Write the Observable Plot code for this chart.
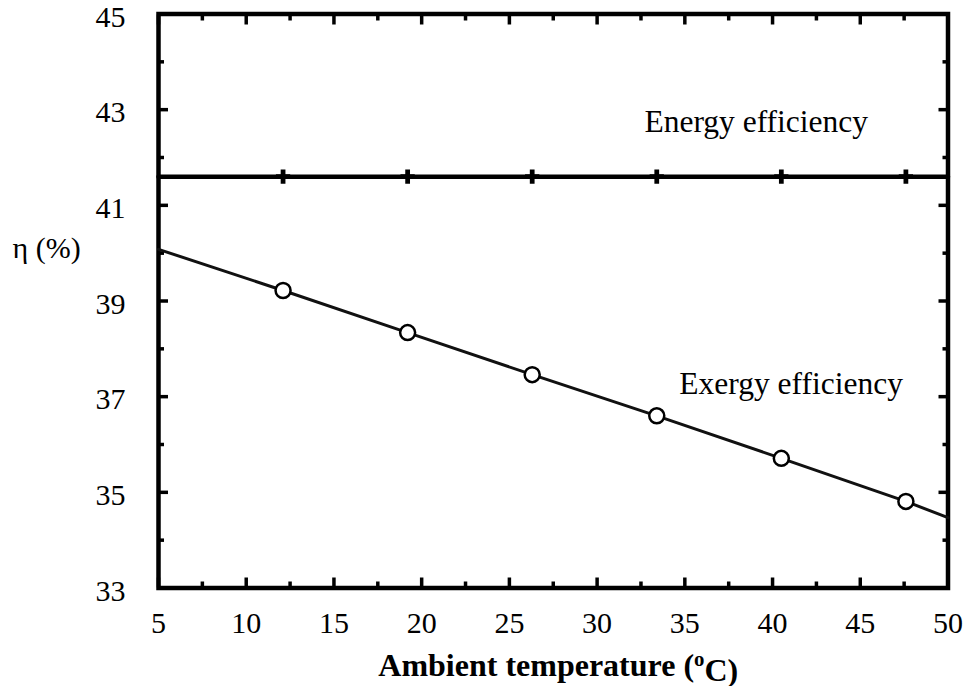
<!DOCTYPE html>
<html><head><meta charset="utf-8">
<script src="https://cdn.jsdelivr.net/npm/d3@7"></script>
<script src="https://cdn.jsdelivr.net/npm/@observablehq/plot@0.6"></script>
<style>
body{margin:0;background:#fff;}
svg{display:block}
#chart svg, #chart svg text, #chart svg tspan { font-family: "Liberation Serif", "Times New Roman", Times, serif !important; }
</style>
</head><body><div id="chart"></div>
<script>
// Ambient temperature (°C) sample points (line end points + marker positions)
const temperature = [5, 12.1, 19.2, 26.3, 33.4, 40.5, 47.6, 50];
const energyEfficiency = [41.6, 41.6, 41.6, 41.6, 41.6, 41.6, 41.6, 41.6];
const exergyEfficiency = [40.08, 39.22, 38.34, 37.46, 36.6, 35.71, 34.81, 34.47];
const hasMarker = [false, true, true, true, true, true, true, false];

const xMajorTicks = [5, 10, 15, 20, 25, 30, 35, 40, 45, 50];
const xMinorTicks = [7.5, 12.5, 17.5, 22.5, 27.5, 32.5, 37.5, 42.5, 47.5];
const yMajorTicks = [33, 35, 37, 39, 41, 43, 45];
const yMinorTicks = [34, 36, 38, 40, 42, 44];

const seriesLabels = ["Energy efficiency", "Exergy efficiency"];
const yLabel = "η (%)";
const xLabel = "Ambient temperature (oC)";

const rows = temperature.map((t, i) => ({t, energy: energyEfficiency[i], exergy: exergyEfficiency[i], marker: hasMarker[i]}));
const markerRows = rows.filter(d => d.marker);

const font = "Liberation Serif";
const tickStyle = {fill: "none", label: null, strokeWidth: 3.5, stroke: "black"};

const chart = Plot.plot({
  width: 964, height: 686,
  marginLeft: 158, marginRight: 16.5, marginTop: 13.5, marginBottom: 98.5,
  style: {fontFamily: font, fontSize: "30px", color: "black", background: "white", overflow: "visible"},
  x: {domain: [5, 50]},
  y: {domain: [33, 45]},
  marks: [
    // inward ticks on all four sides
    Plot.axisX(xMajorTicks, {...tickStyle, anchor: "bottom", tickSize: 10, insetBottom: 10}),
    Plot.axisX(xMinorTicks, {...tickStyle, anchor: "bottom", tickSize: 6, insetBottom: 6}),
    Plot.axisX(xMajorTicks, {...tickStyle, anchor: "top", tickSize: 10, insetTop: 10}),
    Plot.axisX(xMinorTicks, {...tickStyle, anchor: "top", tickSize: 6, insetTop: 6}),
    Plot.axisY(yMajorTicks, {...tickStyle, anchor: "left", tickSize: 10, insetLeft: 10}),
    Plot.axisY(yMinorTicks, {...tickStyle, anchor: "left", tickSize: 6, insetLeft: 6}),
    Plot.axisY(yMajorTicks, {...tickStyle, anchor: "right", tickSize: 10, insetRight: 10}),
    Plot.axisY(yMinorTicks, {...tickStyle, anchor: "right", tickSize: 6, insetRight: 6}),
    // tick labels
    Plot.axisX(xMajorTicks, {anchor: "bottom", tickSize: 0, tickPadding: 24, label: null, fontSize: 30, fontFamily: font, fill: "black", tickFormat: d => String(d)}),
    Plot.axisY(yMajorTicks, {anchor: "left", tickSize: 0, tickPadding: 33, dy: 3, label: null, fontSize: 30, fontFamily: font, fill: "black", tickFormat: d => String(d)}),
    Plot.frame({stroke: "black", strokeWidth: 4.5}),
    // series
    Plot.line(rows, {x: "t", y: "energy", stroke: "black", strokeWidth: 4.5}),
    Plot.line(rows, {x: "t", y: "exergy", stroke: "#111", strokeWidth: 3}),
    Plot.dot(markerRows, {x: "t", y: "energy", symbol: "cross", r: 6, fill: "black", stroke: "none"}),
    Plot.dot(markerRows, {x: "t", y: "exergy", symbol: "circle", r: 7.5, fill: "white", stroke: "black", strokeWidth: 2.5}),
    // annotations
    Plot.text([seriesLabels[0]], {x: 39.07, y: 42.54, lineAnchor: "bottom", fontSize: 31.5, fontFamily: font, fill: "black"}),
    Plot.text([seriesLabels[1]], {x: 41.06, y: 37.06, lineAnchor: "bottom", fontSize: 31.5, fontFamily: font, fill: "black"}),
    Plot.text([yLabel], {frameAnchor: "left", y: 40.1, dx: -146, textAnchor: "start", fontSize: 30, fontFamily: font, fill: "black"}),
    Plot.text([xLabel], {frameAnchor: "bottom", dx: 5, dy: 87.5, lineAnchor: "bottom", fontSize: 32, fontFamily: font, fontWeight: "bold", fill: "black"})
  ]
});

// superscript "o" in the x axis title
d3.select(chart).selectAll("text").filter(function() { return this.textContent === xLabel; }).each(function() {
  const t = d3.select(this);
  t.text(null);
  t.append("tspan").text("Ambient temperature (");
  t.append("tspan").attr("dy", "-0.45em").attr("font-size", "0.65em").text("o");
  t.append("tspan").attr("dy", "0.45em").text("C)");
});

document.getElementById("chart").appendChild(chart);
</script>
</body></html>
